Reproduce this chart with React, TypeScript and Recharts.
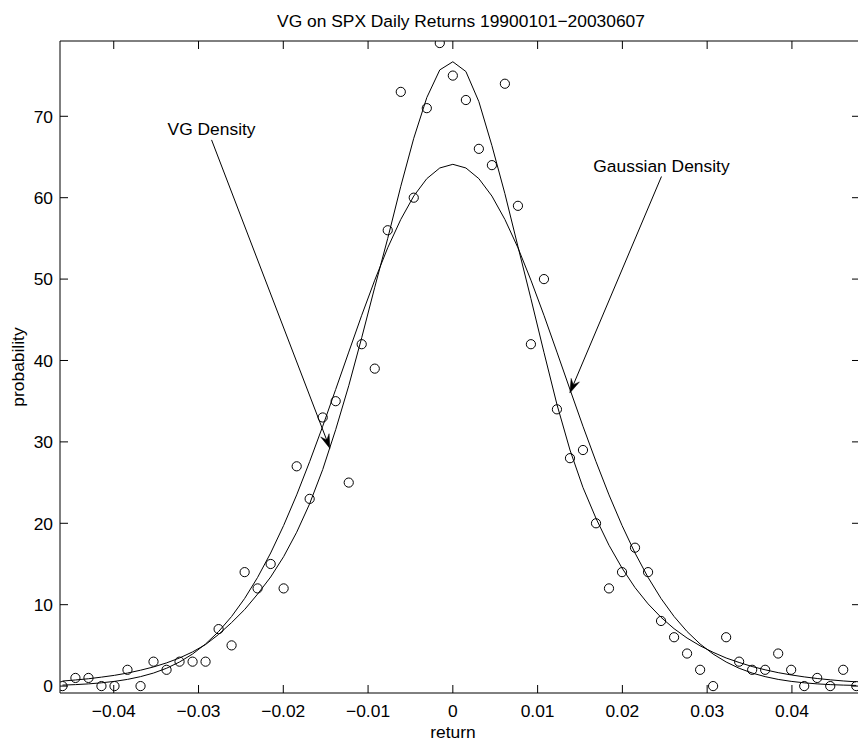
import { ComposedChart, Line, Scatter, XAxis, YAxis, ReferenceLine } from "recharts";

// bin centres of the daily return histogram
const RETURNS = [
  -0.04605, -0.04452, -0.04298, -0.04145, -0.03991, -0.03838, -0.03684, -0.03531, -0.03377, -0.03224,
  -0.0307, -0.02917, -0.02763, -0.0261, -0.02456, -0.02303, -0.02149, -0.01996, -0.01842, -0.01689,
  -0.01535, -0.01382, -0.01228, -0.01075, -0.00921, -0.00768, -0.00614, -0.00461, -0.00307, -0.00154,
  0, 0.00154, 0.00307, 0.00461, 0.00614, 0.00768, 0.00921, 0.01075, 0.01228, 0.01382,
  0.01535, 0.01689, 0.01842, 0.01996, 0.02149, 0.02303, 0.02456, 0.0261, 0.02763, 0.02917,
  0.0307, 0.03224, 0.03377, 0.03531, 0.03684, 0.03838, 0.03991, 0.04145, 0.04298, 0.04452,
  0.04605, 0.04759,
];

const COUNTS = [
  0, 1, 1, 0, 0, 2, 0, 3, 2, 3,
  3, 3, 7, 5, 14, 12, 15, 12, 27, 23,
  33, 35, 25, 42, 39, 56, 73, 60, 71, 79,
  75, 72, 66, 64, 74, 59, 42, 50, 34, 28,
  29, 20, 12, 14, 17, 14, 8, 6, 4, 2,
  0, 6, 3, 2, 2, 4, 2, 0, 1, 0,
  2, 0,
];

const VG_DENSITY = [
  0.62, 0.75, 0.9, 1.1, 1.32, 1.6, 1.95, 2.35, 2.85, 3.45,
  4.2, 5.1, 6.35, 7.8, 9.4, 11.3, 13.4, 15.9, 18.9, 22.4,
  26.6, 31.5, 36.9, 42.8, 49.0, 55.0, 61.4, 67.3, 72.3, 75.7,
  76.7, 75.5, 71.8, 66.4, 60.5, 54.0, 47.6, 41.0, 34.6, 29.0,
  24.4, 20.6, 17.3, 14.5, 12.1, 10.1, 8.45, 7.05, 5.9, 4.95,
  4.15, 3.45, 2.9, 2.4, 2.0, 1.65, 1.37, 1.13, 0.93, 0.77,
  0.63, 0.52,
];

const GAUSS_DENSITY = [
  0.12, 0.18, 0.27, 0.4, 0.58, 0.82, 1.16, 1.6, 2.19, 2.96,
  3.94, 5.17, 6.7, 8.55, 10.76, 13.35, 16.35, 19.73, 23.49, 27.57,
  31.92, 36.44, 41.03, 45.55, 49.87, 53.85, 57.33, 60.2, 62.34, 63.65,
  64.1, 63.65, 62.34, 60.2, 57.33, 53.85, 49.87, 45.55, 41.03, 36.44,
  31.92, 27.57, 23.49, 19.73, 16.35, 13.35, 10.76, 8.55, 6.7, 5.17,
  3.94, 2.96, 2.19, 1.6, 1.16, 0.82, 0.58, 0.4, 0.27, 0.18,
  0.12, 0.08,
];

const X_TICKS = [-0.04, -0.03, -0.02, -0.01, 0, 0.01, 0.02, 0.03, 0.04];
const Y_TICKS = [0, 10, 20, 30, 40, 50, 60, 70];
const X_DOMAIN = [-0.04634, 0.04803];
const Y_DOMAIN = [-0.85, 79.25];

// annotation arrows: [start, tip] in data units
const VG_ARROW = [{ x: -0.02846, y: 67.1 }, { x: -0.0145, y: 29.2 }];
const GAUSS_ARROW = [{ x: 0.02461, y: 62.6 }, { x: 0.0138, y: 36.0 }];

const TITLE = "VG on SPX Daily Returns 19900101\u221220030607";
const FONT = "'Liberation Sans', Arial, Helvetica, sans-serif";
const FONT_SIZE = 17.4;
const TICK_LEN = 8;

const data = RETURNS.map((x, i) => ({
  x,
  count: COUNTS[i],
  vg: VG_DENSITY[i],
  gauss: GAUSS_DENSITY[i],
}));

const fmtX = (v: number) => {
  if (Math.abs(v) < 1e-9) return "0";
  return (v < 0 ? "\u2212" : "") + Math.abs(v).toFixed(2);
};

const BottomTick = (p: any) => (
  <g>
    <line x1={p.x} x2={p.x} y1={p.y} y2={p.y - TICK_LEN} stroke="#000" />
    <text x={p.x} y={p.y + 24} textAnchor="middle" fontFamily={FONT} fontSize={FONT_SIZE} fill="#000">
      {fmtX(p.payload.value)}
    </text>
  </g>
);

const TopTick = (p: any) => (
  <line x1={p.x} x2={p.x} y1={p.y} y2={p.y + TICK_LEN} stroke="#000" />
);

const LeftTick = (p: any) => (
  <g>
    <line x1={p.x} x2={p.x + TICK_LEN} y1={p.y} y2={p.y} stroke="#000" />
    <text x={p.x - 7} y={p.y} dy="0.36em" textAnchor="end" fontFamily={FONT} fontSize={FONT_SIZE} fill="#000">
      {p.payload.value}
    </text>
  </g>
);

const RightTick = (p: any) => (
  <line x1={p.x} x2={p.x - TICK_LEN} y1={p.y} y2={p.y} stroke="#000" />
);

const TitleLabel = (p: any) => {
  const vb = p.viewBox;
  return (
    <text x={vb.x + vb.width / 2 + 1} y={vb.y + vb.height - 14.5} textAnchor="middle" fontFamily={FONT} fontSize={FONT_SIZE} fill="#000">
      {TITLE}
    </text>
  );
};

const XLabel = (p: any) => {
  const vb = p.viewBox;
  return (
    <text x={vb.x + vb.width / 2 - 7} y={vb.y + 45} textAnchor="middle" fontFamily={FONT} fontSize={FONT_SIZE} fill="#000">
      return
    </text>
  );
};

const YLabel = (p: any) => {
  const vb = p.viewBox;
  const cx = 24;
  const cy = vb.y + vb.height / 2;
  return (
    <text x={cx} y={cy} transform={`rotate(-90, ${cx}, ${cy})`} textAnchor="middle" fontFamily={FONT} fontSize={FONT_SIZE} fill="#000">
      probability
    </text>
  );
};

const arrowShape = (text: string) => (p: any) => {
  const { x1, y1, x2, y2 } = p;
  const dx = x2 - x1;
  const dy = y2 - y1;
  const len = Math.hypot(dx, dy) || 1;
  const ux = dx / len;
  const uy = dy / len;
  const nx = -uy;
  const ny = ux;
  const L = 14;
  const W = 4.5;
  const notch = 9;
  const bx = x2 - ux * L;
  const by = y2 - uy * L;
  const head = `${x2},${y2} ${bx + nx * W},${by + ny * W} ${x2 - ux * notch},${y2 - uy * notch} ${bx - nx * W},${by - ny * W}`;
  return (
    <g>
      <line x1={x1} y1={y1} x2={x2 - ux * notch} y2={y2 - uy * notch} stroke="#000" strokeWidth={1} />
      <polygon points={head} fill="#000" stroke="#000" strokeWidth={0.5} />
      <text x={x1} y={y1 - 4.5} textAnchor="middle" fontFamily={FONT} fontSize={FONT_SIZE} fill="#000">
        {text}
      </text>
    </g>
  );
};

const Circle = (p: any) => (
  <circle cx={p.cx} cy={p.cy} r={4.6} fill="none" stroke="#000" strokeWidth={1} />
);

export default function App() {
  return (
    <div
      style={{
        position: "fixed",
        left: 0,
        top: 0,
        width: 858,
        height: 743,
        overflow: "hidden",
        background: "#fff",
      }}
    >
      <ComposedChart
        width={861}
        height={743}
        data={data}
        margin={{ top: 40, right: 0, left: 0, bottom: 0 }}
      >
        <XAxis
          xAxisId="b"
          dataKey="x"
          type="number"
          domain={X_DOMAIN}
          allowDataOverflow
          ticks={X_TICKS}
          height={50}
          tickSize={0}
          tickMargin={0}
          tickLine={false}
          tick={BottomTick}
          axisLine={{ stroke: "#000" }}
          label={XLabel}
        />
        <XAxis
          xAxisId="t"
          orientation="top"
          dataKey="x"
          type="number"
          domain={X_DOMAIN}
          allowDataOverflow
          ticks={X_TICKS}
          height={1}
          tickSize={0}
          tickMargin={0}
          tickLine={false}
          tick={TopTick}
          axisLine={{ stroke: "#000" }}
          label={TitleLabel}
        />
        <YAxis
          yAxisId="l"
          type="number"
          domain={Y_DOMAIN}
          allowDataOverflow
          ticks={Y_TICKS}
          width={60}
          tickSize={0}
          tickMargin={0}
          tickLine={false}
          tick={LeftTick}
          axisLine={{ stroke: "#000" }}
          label={YLabel}
        />
        <YAxis
          yAxisId="r"
          orientation="right"
          type="number"
          domain={Y_DOMAIN}
          allowDataOverflow
          ticks={Y_TICKS}
          width={1}
          tickSize={0}
          tickMargin={0}
          tickLine={false}
          tick={RightTick}
          axisLine={{ stroke: "#000" }}
        />
        <Line
          xAxisId="b"
          yAxisId="l"
          type="linear"
          dataKey="vg"
          stroke="#000"
          strokeWidth={1}
          dot={false}
          isAnimationActive={false}
        />
        <Line
          xAxisId="b"
          yAxisId="l"
          type="linear"
          dataKey="gauss"
          stroke="#000"
          strokeWidth={1}
          dot={false}
          isAnimationActive={false}
        />
        <Scatter
          xAxisId="b"
          yAxisId="l"
          dataKey="count"
          shape={Circle}
          isAnimationActive={false}
        />
        <ReferenceLine
          xAxisId="b"
          yAxisId="l"
          segment={VG_ARROW}
          ifOverflow="visible"
          shape={arrowShape("VG Density")}
        />
        <ReferenceLine
          xAxisId="b"
          yAxisId="l"
          segment={GAUSS_ARROW}
          ifOverflow="visible"
          shape={arrowShape("Gaussian Density")}
        />
      </ComposedChart>
    </div>
  );
}
